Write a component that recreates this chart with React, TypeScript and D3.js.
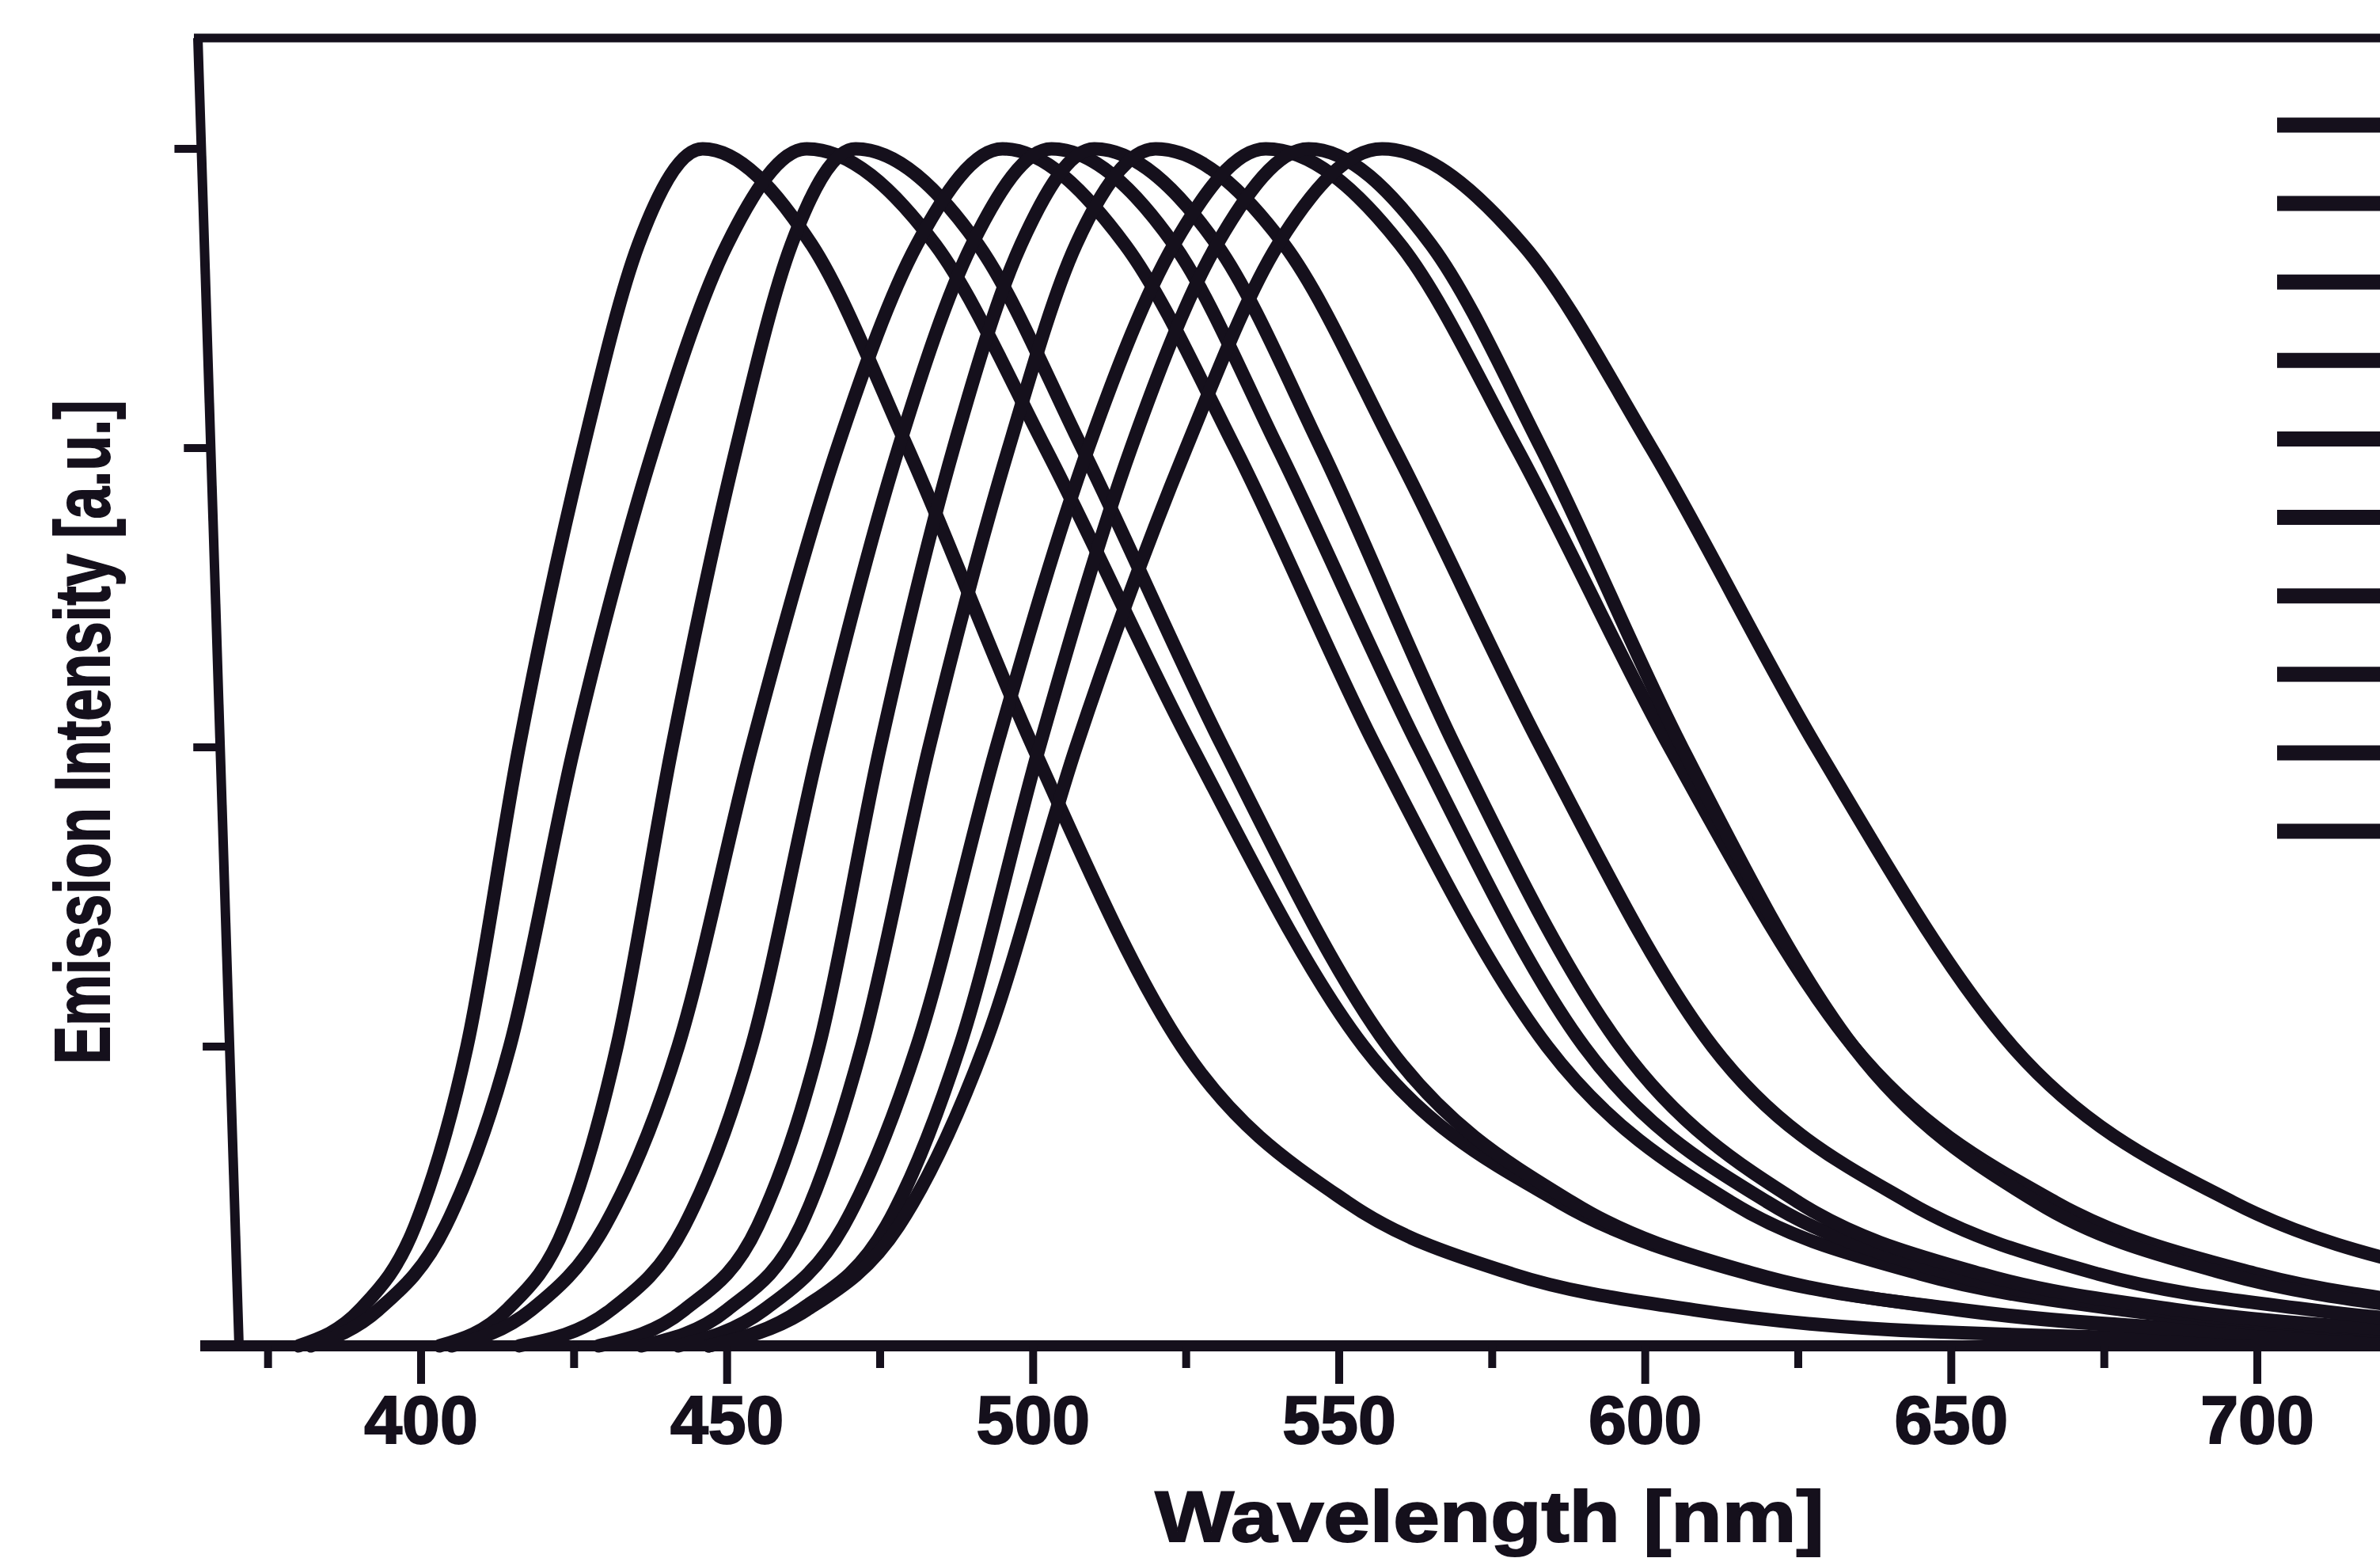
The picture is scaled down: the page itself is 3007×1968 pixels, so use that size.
import React from "react";
import * as d3 from "d3";

// intensity levels, wavelength where each spectrum crosses them (blue side -> peak -> red tail)
const levels = [0, 0.03, 0.1, 0.25, 0.5, 0.75, 0.92, 1, 0.92, 0.75, 0.5, 0.25, 0.12, 0.06, 0.03, 0.012, 0.004];

const spectrum1 = [380, 390, 399, 407.5, 416, 426.5, 435.5, 446, 463.8, 479.5, 500, 524.3, 551.3, 578.3, 608, 645.8, 720];
const spectrum2 = [382, 393, 404, 414.5, 425, 438, 450, 463, 484, 502, 526, 554, 586, 617, 652, 696, 740];
const spectrum3 = [403, 414, 423.5, 432, 441, 451.5, 460.5, 471, 491, 508, 531, 558, 588, 618, 651, 693, 740];
const spectrum4 = [405, 418, 430, 442, 454, 468, 481, 495, 515, 533, 556, 584, 614, 645, 678, 721, 760];
const spectrum5 = [416, 431, 443, 454, 465, 478, 490, 503, 523, 540, 563, 590, 620, 650, 683, 725, 760];
const spectrum6 = [429, 443, 455, 465, 475, 487, 498, 510, 530, 547, 569, 596, 625, 655, 687, 728, 770];
const spectrum7 = [436, 450, 462, 472, 483, 496, 507, 520, 541, 559, 583, 611, 643, 674, 709, 753, 800];
const spectrum8 = [442, 456, 469, 481, 494, 509, 523, 538, 560, 579, 604, 634, 667, 700, 736, 782, 840];
const spectrum9 = [447, 462, 476, 488, 501, 516, 530, 545, 565, 583, 606, 634, 664, 695, 728, 771, 830];
const spectrum10 = [447, 463, 478, 492, 507, 525, 540, 557, 580, 601, 628, 660, 696, 731, 770, 820, 880];

const spectra = [spectrum1, spectrum2, spectrum3, spectrum4, spectrum5, spectrum6, spectrum7, spectrum8, spectrum9, spectrum10];

const majorTicks = [400, 450, 500, 550, 600, 650, 700];
const minorTicks = [375, 425, 475, 525, 575, 625, 675, 725];
const yTicks = [0, 0.25, 0.5, 0.75, 1];

const width = 3007;
const height = 1968;
const ink = "#15101c";
const font = "'Liberation Sans', Arial, sans-serif";

export default function App() {
  const x = d3.scaleLinear().domain([400, 700]).range([532, 2852]);
  const y = d3.scaleLinear().domain([0, 1]).range([1700, 188]);

  const top = 48; // top frame
  const bottom = y(0);
  // the scanned left axis leans a bit to the right going down
  const leftX = (py: number) => 250 + ((py - top) * 52) / (bottom - top);

  const legendY = d3.scaleLinear().domain([0, spectra.length - 1]).range([158, 1050]);

  const line = d3
    .line<[number, number]>()
    .x((d) => x(d[0]))
    .y((d) => y(d[1]))
    .curve(d3.curveMonotoneX);

  const clipPath = `M${leftX(top)},${top - 10} L3100,${top - 10} L3100,${bottom + 12} L${leftX(bottom)},${bottom + 12} Z`;

  return (
    <svg
      width={width}
      height={height}
      style={{ position: "absolute", left: 0, top: 0, background: "#fff" }}
    >
      <defs>
        <clipPath id="plot-clip">
          <path d={clipPath} />
        </clipPath>
      </defs>
      <rect width={width} height={height} fill="#fff" />

      {/* spectra */}
      <g clipPath="url(#plot-clip)">
        {spectra.map((s, i) => (
          <path
            key={i}
            d={line(s.map((w, k) => [w, levels[k]] as [number, number])) || ""}
            fill="none"
            stroke={ink}
            strokeWidth={17}
            strokeLinejoin="round"
            strokeLinecap="round"
          />
        ))}
      </g>

      {/* frame */}
      <line x1={leftX(top) - 5} y1={top} x2={3100} y2={top} stroke={ink} strokeWidth={11} />
      <line x1={leftX(top)} y1={top} x2={leftX(bottom)} y2={bottom} stroke={ink} strokeWidth={12} />
      <line x1={253} y1={bottom} x2={3100} y2={bottom} stroke={ink} strokeWidth={14} />

      {/* y ticks */}
      {yTicks.map((t) => (
        <line
          key={t}
          x1={leftX(y(t)) - 34}
          y1={y(t)}
          x2={leftX(y(t))}
          y2={y(t)}
          stroke={ink}
          strokeWidth={10}
        />
      ))}

      {/* x ticks */}
      {minorTicks.map((t) => (
        <line key={"m" + t} x1={x(t)} y1={bottom} x2={x(t)} y2={bottom + 28} stroke={ink} strokeWidth={10} />
      ))}
      {majorTicks.map((t) => (
        <g key={t}>
          <line x1={x(t)} y1={bottom} x2={x(t)} y2={bottom + 48} stroke={ink} strokeWidth={10} />
          <text
            x={x(t)}
            y={1823}
            textAnchor="middle"
            fontFamily={font}
            fontWeight="bold"
            fontSize={86}
            fill={ink}
            stroke={ink}
            strokeWidth={2}
          >
            {t}
          </text>
        </g>
      ))}

      {/* axis titles */}
      <text
        x={1882}
        y={1947}
        textAnchor="middle"
        fontFamily={font}
        fontWeight="bold"
        fontSize={90}
        fill={ink}
        stroke={ink}
        strokeWidth={2}
        textLength={845}
        lengthAdjust="spacingAndGlyphs"
      >
        Wavelength [nm]
      </text>
      <text
        transform="translate(138, 925) rotate(-90)"
        textAnchor="middle"
        fontFamily={font}
        fontWeight="bold"
        fontSize={98}
        fill={ink}
        stroke={ink}
        strokeWidth={2}
        textLength={839}
        lengthAdjust="spacingAndGlyphs"
      >
        Emission Intensity [a.u.]
      </text>

      {/* legend line samples (labels fall outside the picture) */}
      {spectra.map((_, i) => (
        <line
          key={"leg" + i}
          x1={2877}
          y1={legendY(i)}
          x2={3100}
          y2={legendY(i)}
          stroke={ink}
          strokeWidth={19}
        />
      ))}
    </svg>
  );
}
